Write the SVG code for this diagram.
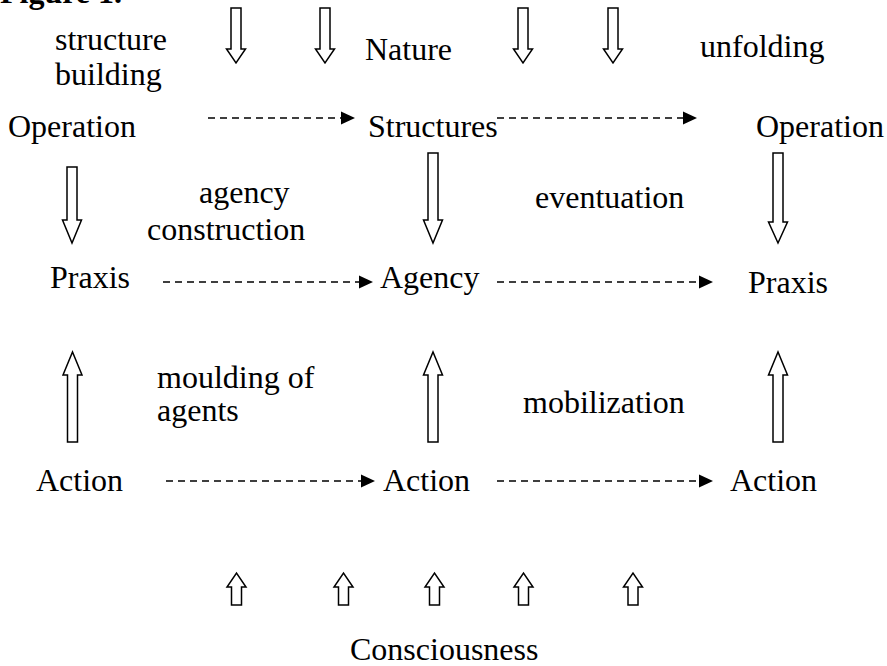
<svg xmlns="http://www.w3.org/2000/svg" width="887" height="666" viewBox="0 0 887 666">
<style>
text{font-family:"Liberation Serif","Times New Roman",serif;font-size:32px;fill:#000}
.fig{font-weight:bold}
.blk{fill:#fff;stroke:#000;stroke-width:1.5;stroke-linejoin:miter}
.dash{stroke:#000;stroke-width:1.6;stroke-dasharray:7 5;fill:none}
.head{fill:#000}
</style>
<rect width="887" height="666" fill="#fff"/>
<text class="fig" x="0" y="3">Figure 1.</text>
<g id="labels">
<text x="55" y="50">structure</text>
<text x="55" y="85">building</text>
<text x="365" y="60">Nature</text>
<text x="700" y="57">unfolding</text>
<text x="199" y="203">agency</text>
<text x="147" y="240">construction</text>
<text x="535" y="208">eventuation</text>
<text x="157" y="388">moulding of</text>
<text x="157" y="421">agents</text>
<text x="523" y="413">mobilization</text>
</g>
<g id="n-operation-left"><text x="8" y="137">Operation</text></g>
<g id="n-structures"><text x="368" y="137">Structures</text></g>
<g id="n-operation-right"><text x="756" y="137">Operation</text></g>
<g id="n-praxis-left"><text x="50" y="288">Praxis</text></g>
<g id="n-agency"><text x="380" y="288">Agency</text></g>
<g id="n-praxis-right"><text x="748" y="293">Praxis</text></g>
<g id="n-action-left"><text x="36" y="491">Action</text></g>
<g id="n-action-mid"><text x="383" y="491">Action</text></g>
<g id="n-action-right"><text x="730" y="491">Action</text></g>
<g id="n-consciousness"><text x="350" y="660">Consciousness</text></g>
<g id="connectors">
<polygon class="blk" points="231,8 241,8 241,49 245.5,49 236,63 226.5,49 231,49"/>
<polygon class="blk" points="320,8 330,8 330,49 334.5,49 325,63 315.5,49 320,49"/>
<polygon class="blk" points="518,8 528,8 528,49 532.5,49 523,63 513.5,49 518,49"/>
<polygon class="blk" points="608,8 618,8 618,49 622.5,49 613,63 603.5,49 608,49"/>
<polygon class="blk" points="67,167 77,167 77,220 81.5,220 72,243 62.5,220 67,220"/>
<polygon class="blk" points="428,153 438,153 438,220 442.5,220 433,243 423.5,220 428,220"/>
<polygon class="blk" points="773,153 783,153 783,222 787.5,222 778,243 768.5,222 773,222"/>
<polygon class="blk" points="67.5,442 77.5,442 77.5,375 82,375 72.5,352 63,375 67.5,375"/>
<polygon class="blk" points="428,442 438,442 438,375 442.5,375 433,352 423.5,375 428,375"/>
<polygon class="blk" points="773,442 783,442 783,375 787.5,375 778,352 768.5,375 773,375"/>
<polygon class="blk" points="231.5,605 241.5,605 241.5,587 246,587 236.5,573 227,587 231.5,587"/>
<polygon class="blk" points="338.5,605 348.5,605 348.5,587 353,587 343.5,573 334,587 338.5,587"/>
<polygon class="blk" points="429.5,605 439.5,605 439.5,587 444,587 434.5,573 425,587 429.5,587"/>
<polygon class="blk" points="518.5,605 528.5,605 528.5,587 533,587 523.5,573 514,587 518.5,587"/>
<polygon class="blk" points="628,605 638,605 638,587 642.5,587 633,573 623.5,587 628,587"/>
<line class="dash" x1="208" y1="118" x2="341" y2="118"/>
<polygon class="head" points="341,111.5 355,118 341,124.5"/>
<line class="dash" x1="497" y1="118" x2="683" y2="118"/>
<polygon class="head" points="683,111.5 697,118 683,124.5"/>
<line class="dash" x1="163" y1="282" x2="359" y2="282"/>
<polygon class="head" points="359,275.5 373,282 359,288.5"/>
<line class="dash" x1="497" y1="282" x2="699" y2="282"/>
<polygon class="head" points="699,275.5 713,282 699,288.5"/>
<line class="dash" x1="166" y1="481" x2="361" y2="481"/>
<polygon class="head" points="361,474.5 375,481 361,487.5"/>
<line class="dash" x1="497" y1="481" x2="699" y2="481"/>
<polygon class="head" points="699,474.5 713,481 699,487.5"/>
</g>
</svg>
